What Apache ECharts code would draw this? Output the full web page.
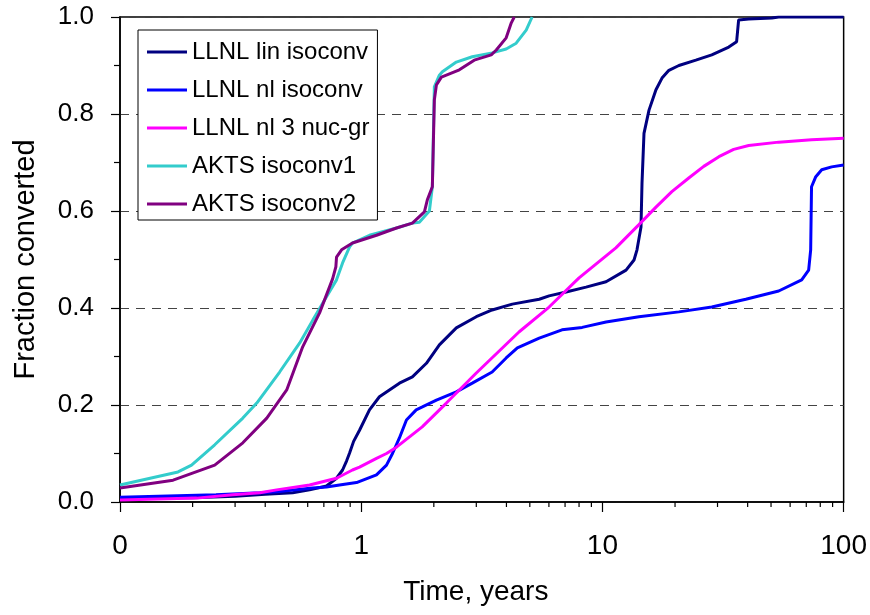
<!DOCTYPE html>
<html>
<head>
<meta charset="utf-8">
<script src="https://cdn.jsdelivr.net/npm/echarts@6/dist/echarts.min.js"></script>
<style>
html,body{margin:0;padding:0;background:#fff;}
#chart{width:870px;height:615px;}
</style>
</head>
<body>
<div id="chart"></div>
<script>
// ---- data (time in years, fraction converted) ----
const seriesNames = ['LLNL lin isoconv', 'LLNL nl isoconv', 'LLNL nl 3 nuc-gr', 'AKTS isoconv1', 'AKTS isoconv2'];
const seriesColors = ['#000080', '#0000FF', '#FF00FF', '#33CCCC', '#800080'];

const llnlLinIsoconv = [
  [0.1,0.008],[0.2,0.009],[0.3,0.012],[0.4,0.016],[0.52,0.019],[0.611,0.025],[0.718,0.033],
  [0.79,0.049],[0.837,0.066],[0.87,0.085],[0.895,0.101],[0.93,0.125],[0.984,0.148],[1.082,0.19],
  [1.19,0.217],[1.44,0.245],[1.63,0.258],[1.863,0.286],[2.109,0.324],[2.479,0.359],[3.0,0.382],
  [3.49,0.396],[4.23,0.408],[5.47,0.418],[6.01,0.425],[7.07,0.433],[8.55,0.443],[10.35,0.454],
  [12.53,0.478],[13.52,0.499],[13.91,0.52],[14.45,0.567],[14.59,0.657],[14.87,0.76],[15.6,0.808],
  [16.67,0.85],[17.66,0.874],[18.86,0.89],[20.75,0.9],[24.4,0.911],[28.4,0.922],[33.4,0.938],
  [36.0,0.949],[36.7,0.994],[40.4,0.996],[50.4,0.998],[53.8,1.0],[100,1.0]
];
const llnlNlIsoconv = [
  [0.1,0.01],[0.25,0.015],[0.38,0.019],[0.446,0.021],[0.629,0.029],[0.718,0.031],[0.813,0.035],
  [0.956,0.04],[1.157,0.056],[1.273,0.076],[1.348,0.1],[1.44,0.132],[1.54,0.169],[1.69,0.19],
  [1.793,0.196],[2.05,0.21],[2.479,0.227],[2.887,0.245],[3.49,0.268],[3.99,0.297],[4.44,0.318],
  [5.47,0.338],[6.8,0.355],[8.24,0.36],[10.35,0.371],[14.17,0.382],[20.75,0.392],[28.4,0.402],
  [39.3,0.418],[53.8,0.435],[67,0.458],[71.6,0.478],[73,0.52],[73.6,0.65],[76.5,0.67],
  [81.1,0.685],[89.2,0.691],[100,0.695]
];
const llnlNl3NucGr = [
  [0.1,0.004],[0.208,0.008],[0.2935,0.015],[0.38,0.019],[0.446,0.025],[0.611,0.035],[0.79,0.049],
  [0.92,0.066],[0.984,0.072],[1.157,0.09],[1.273,0.1],[1.40,0.113],[1.79,0.155],[2.254,0.204],
  [3.0,0.266],[4.52,0.351],[6.01,0.402],[8.0,0.462],[11.37,0.524],[14.17,0.572],[16.67,0.608],
  [19.4,0.64],[22.8,0.668],[26.3,0.692],[30.4,0.712],[35.0,0.727],[40.4,0.735],[53.8,0.742],
  [73.6,0.747],[100,0.75]
];
const aktsIsoconv1 = [
  [0.1,0.035],[0.174,0.062],[0.198,0.076],[0.247,0.118],[0.323,0.173],[0.369,0.204],[0.459,0.268],
  [0.556,0.328],[0.63,0.375],[0.718,0.423],[0.79,0.458],[0.837,0.493],[0.895,0.526],[0.92,0.534],
  [1.082,0.55],[1.40,0.565],[1.63,0.575],[1.742,0.577],[1.917,0.6],[1.972,0.65],[2.01,0.856],
  [2.109,0.88],[2.17,0.887],[2.479,0.907],[2.887,0.918],[3.49,0.926],[3.99,0.934],[4.39,0.946],
  [4.83,0.973],[5.11,1.0]
];
const aktsIsoconv2 = [
  [0.1,0.029],[0.166,0.045],[0.247,0.076],[0.323,0.122],[0.406,0.173],[0.491,0.231],[0.572,0.32],
  [0.672,0.39],[0.761,0.46],[0.785,0.485],[0.79,0.505],[0.829,0.52],[0.92,0.534],[1.157,0.55],
  [1.40,0.565],[1.63,0.575],[1.828,0.598],[1.88,0.623],[1.972,0.65],[2.01,0.829],[2.05,0.86],
  [2.15,0.876],[2.552,0.891],[2.94,0.911],[3.46,0.922],[3.63,0.932],[3.99,0.957],[4.19,0.988],[4.31,1.0]
];
const seriesData = [llnlLinIsoconv, llnlNlIsoconv, llnlNl3NucGr, aktsIsoconv1, aktsIsoconv2];

// axis ticks
const xMin = 0.1, xMax = 100;
const yMin = 0, yMax = 1, yInterval = 0.2;
const xMinorTickValues = [0.2,0.3,0.4,0.5,0.6,0.7,0.8,0.9,2,3,4,5,6,7,8,9,20,30,40,50,60,70,80,90];
const xAxisTitle = 'Time, years';
const yAxisTitle = 'Fraction converted';

const FONT = '"Liberation Sans", Arial, sans-serif';
const chart = echarts.init(document.getElementById('chart'), null, {renderer: 'canvas'});

const lineSeries = seriesNames.map((name, i) => ({
  name: name,
  type: 'line',
  data: seriesData[i],
  symbol: 'none',
  smooth: false,
  clip: true,
  lineStyle: {color: seriesColors[i], width: 3},
  itemStyle: {color: seriesColors[i]},
  emphasis: {disabled: true},
  z: 3 + i
}));

const minorTickSeries = {
  type: 'custom',
  name: 'minorTicks',
  silent: true,
  clip: false,
  z: 20,
  data: xMinorTickValues.map(v => [v, yMin]),
  encode: {x: 0, y: 1},
  renderItem: function (params, api) {
    const p = api.coord([api.value(0), api.value(1)]);
    return {
      type: 'line',
      shape: {x1: p[0], y1: p[1], x2: p[0], y2: p[1] + 5},
      style: {stroke: '#000', lineWidth: 1.2}
    };
  }
};

chart.setOption({
  animation: false,
  backgroundColor: '#fff',
  textStyle: {fontFamily: FONT},
  grid: {
    left: 120, right: 25, top: 17, bottom: 113,
    show: true, borderColor: '#000', borderWidth: 1.5, backgroundColor: 'transparent'
  },
  legend: {
    data: seriesNames,
    orient: 'vertical',
    left: 138, top: 30,
    backgroundColor: '#fff',
    borderColor: '#000', borderWidth: 1,
    padding: [8, 8, 2, 9],
    icon: 'rect',
    itemWidth: 40, itemHeight: 3,
    itemGap: 10,
    textStyle: {fontFamily: FONT, fontSize: 24, color: '#000', lineHeight: 28},
    selectedMode: false
  },
  xAxis: {
    type: 'log',
    logBase: 10,
    min: xMin, max: xMax,
    name: xAxisTitle,
    nameLocation: 'middle',
    nameGap: 76,
    nameTextStyle: {fontFamily: FONT, fontSize: 28, color: '#000', padding: [0, 12, 0, 0]},
    axisLine: {lineStyle: {color: '#000', width: 1.5}},
    axisTick: {show: true, length: 10, lineStyle: {color: '#000', width: 1.2}},
    minorTick: {show: false},
    splitLine: {show: false},
    axisLabel: {
      fontFamily: FONT, fontSize: 28, color: '#000', margin: 30,
      formatter: function (v) { return v < 1 ? '0' : String(Math.round(v)); }
    }
  },
  yAxis: {
    type: 'value',
    min: yMin, max: yMax, interval: yInterval,
    name: yAxisTitle,
    nameLocation: 'middle',
    nameRotate: 90,
    nameGap: 80,
    nameTextStyle: {fontFamily: FONT, fontSize: 29, color: '#000'},
    axisLine: {show: true, lineStyle: {color: '#000', width: 1.5}},
    axisTick: {show: true, length: 9, lineStyle: {color: '#000', width: 1.2}},
    minorTick: {show: true, splitNumber: 2, length: 6, lineStyle: {color: '#000', width: 1.2}},
    splitLine: {show: true, lineStyle: {color: '#444', width: 1, type: [9, 7]}},
    axisLabel: {
      fontFamily: FONT, fontSize: 26, color: '#000', margin: 26,
      formatter: function (v) { return v.toFixed(1); }
    }
  },
  series: lineSeries.concat([minorTickSeries])
});
</script>
</body>
</html>
